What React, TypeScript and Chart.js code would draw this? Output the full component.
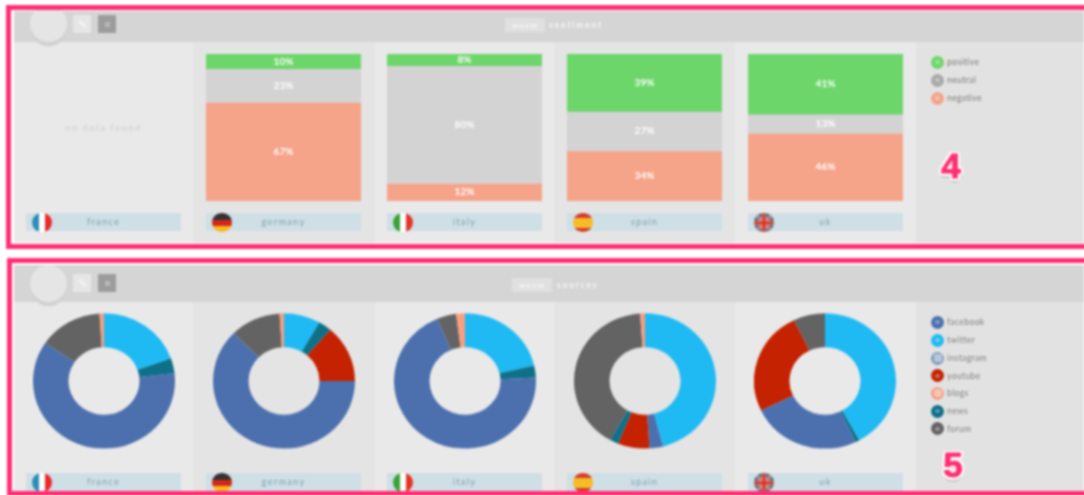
import React, { useEffect, useRef } from "react";
import { Chart, registerables } from "chart.js";

Chart.register(...registerables);

const countries = ["france", "germany", "italy", "spain", "uk"];
const sentimentLabels = ["positive", "neutral", "negative"];
const germanySentiment = [10, 23, 67];
const italySentiment = [8, 80, 12];
const spainSentiment = [39, 27, 34];
const ukSentiment = [41, 13, 46];
const sourceLabels = ["facebook", "twitter", "instagram", "youtube", "blogs", "news", "forum"];

const franceSources = ["twitter", "news", "facebook", "forum", "blogs"];
const franceShares = [19.6, 3.6, 61.3, 14.5, 1];
const germanySources = ["twitter", "news", "youtube", "facebook", "forum", "blogs"];
const germanyShares = [8.3, 3, 13.7, 62.5, 11.5, 1];
const italySources = ["twitter", "news", "facebook", "forum", "blogs"];
const italyShares = [21.3, 2.9, 69.4, 4.4, 2];
const spainSources = ["twitter", "facebook", "youtube", "news", "forum", "blogs"];
const spainShares = [45.9, 3.1, 7.2, 2, 40.7, 1.1];
const ukSources = ["twitter", "news", "facebook", "youtube", "forum"];
const ukShares = [42, 0.9, 25, 24.9, 7.2];

const sentimentColors: Record<string, string> = {
  positive: "#6dd66a",
  neutral: "#d3d3d3",
  negative: "#f5a389",
};
const sourceColors: Record<string, string> = {
  facebook: "#4c70ae",
  twitter: "#1fbaf3",
  instagram: "#7a9cc0",
  youtube: "#c42200",
  blogs: "#f99f7f",
  news: "#0f7089",
  forum: "#636363",
};

const FONT = "Lato, 'Open Sans', sans-serif";

const barLabelPlugin = {
  id: "barLabels",
  afterDatasetsDraw(chart: any) {
    const { ctx } = chart;
    ctx.save();
    ctx.fillStyle = "#ffffff";
    ctx.font = `700 10px ${FONT}`;
    ctx.textAlign = "center";
    ctx.textBaseline = "middle";
    chart.data.datasets.forEach((ds: any, i: number) => {
      const bar = chart.getDatasetMeta(i).data[0] as any;
      ctx.fillText(`${ds.data[0]}%`, bar.x, (bar.y + bar.base) / 2);
    });
    ctx.restore();
  },
};

function SentimentBar({ country, values, left }: { country: string; values: number[]; left: number }) {
  const ref = useRef<HTMLCanvasElement>(null);
  useEffect(() => {
    const chart = new Chart(ref.current as HTMLCanvasElement, {
      type: "bar",
      data: {
        labels: [country],
        datasets: sentimentLabels.map((label, i) => ({
          label,
          data: [values[i]],
          backgroundColor: sentimentColors[label],
          barPercentage: 1,
          categoryPercentage: 1,
          borderWidth: 0,
        })),
      },
      options: {
        animation: false,
        responsive: false,
        layout: { padding: 0 },
        plugins: { legend: { display: false }, tooltip: { enabled: false } },
        scales: {
          x: { stacked: true, display: false },
          y: { stacked: true, display: false, reverse: true, min: 0, max: 100 },
        },
      },
      plugins: [barLabelPlugin],
    } as any);
    return () => chart.destroy();
  }, []);
  return (
    <canvas
      ref={ref}
      width={155}
      height={147}
      style={{ position: "absolute", left, top: 54, width: 155, height: 147 }}
    />
  );
}

function SourceDonut({
  sources,
  shares,
  cx,
}: {
  sources: string[];
  shares: number[];
  cx: number;
}) {
  const ref = useRef<HTMLCanvasElement>(null);
  useEffect(() => {
    const chart = new Chart(ref.current as HTMLCanvasElement, {
      type: "doughnut",
      data: {
        labels: sources,
        datasets: [
          {
            data: shares,
            backgroundColor: sources.map((s) => sourceColors[s]),
            borderWidth: 0,
          },
        ],
      },
      options: {
        animation: false,
        responsive: false,
        cutout: "50%",
        layout: { padding: 0 },
        plugins: { legend: { display: false }, tooltip: { enabled: false } },
      },
    } as any);
    return () => chart.destroy();
  }, []);
  return (
    <div
      style={{
        position: "absolute",
        left: cx - 71,
        top: 309.8,
        width: 142,
        height: 142,
        transform: "scaleY(0.953)",
        transformOrigin: "50% 50%",
      }}
    >
      <canvas ref={ref} width={142} height={142} style={{ display: "block", width: 142, height: 142 }} />
    </div>
  );
}

function FlagArt({ country }: { country: string }) {
  const r = (x: number, y: number, w: number, h: number, fill: string) => (
    <rect x={x} y={y} width={w} height={h} fill={fill} />
  );
  if (country === "france")
    return (
      <>
        {r(0, 0, 7, 20, "#2b8db5")}
        {r(7, 0, 6, 20, "#ffffff")}
        {r(13, 0, 7, 20, "#e92a2a")}
      </>
    );
  if (country === "germany")
    return (
      <>
        {r(0, 0, 20, 7, "#333333")}
        {r(0, 7, 20, 6, "#d6261a")}
        {r(0, 13, 20, 7, "#f6b91f")}
      </>
    );
  if (country === "italy")
    return (
      <>
        {r(0, 0, 7, 20, "#38a336")}
        {r(7, 0, 6, 20, "#ffffff")}
        {r(13, 0, 7, 20, "#e53427")}
      </>
    );
  if (country === "spain")
    return (
      <>
        {r(0, 0, 20, 5, "#d9392b")}
        {r(0, 5, 20, 10, "#f4bd25")}
        {r(0, 15, 20, 5, "#d9392b")}
      </>
    );
  return (
    <>
      {r(0, 0, 20, 20, "#2a6a85")}
      <path d="M0 0L20 20M20 0L0 20" stroke="#f2f2f2" strokeWidth={3} />
      <path d="M0 0L20 20M20 0L0 20" stroke="#e04a3a" strokeWidth={1.6} />
      {r(7.8, 0, 4.4, 20, "#f2f2f2")}
      {r(0, 7.8, 20, 4.4, "#f2f2f2")}
      {r(8.3, 0, 3.4, 20, "#d8352a")}
      {r(0, 8.3, 20, 3.4, "#d8352a")}
    </>
  );
}

const abs = (s: React.CSSProperties): React.CSSProperties => ({ position: "absolute", ...s });

const columnLeft = [14, 193, 375, 555, 735];
const columnWidth = [179, 182, 180, 180, 181];
const barLeft = [26, 206, 387, 567, 748];

function Panel({
  top,
  headerH,
  bottom,
  title,
  pillLeft,
  titleLeft,
  labelTop,
  squareTop,
}: {
  top: number;
  headerH: number;
  bottom: number;
  title: string;
  pillLeft: number;
  titleLeft: number;
  labelTop: number;
  squareTop: number;
}) {
  const bodyTop = top + headerH;
  return (
    <>
      <div style={abs({ left: 14, top, width: 1070, height: bottom - top, background: "#e2e2e2" })} />
      {columnLeft.map((l, i) => (
        <div
          key={i}
          style={abs({
            left: l,
            top: bodyTop,
            width: columnWidth[i],
            height: bottom - bodyTop,
            background: i % 2 === 0 ? "#e9e9e9" : "#e4e4e4",
          })}
        />
      ))}
      <div style={abs({ left: 14, top, width: 1070, height: headerH, background: "#d5d5d5" })} />
      <div
        style={abs({
          left: 29.5,
          top: bodyTop - 37,
          width: 37.5,
          height: 37.5,
          borderRadius: "50%",
          background: "#e5e5e5",
          boxShadow: "0 4.5px 0 #d2d2d2",
        })}
      />
      <div style={abs({ left: 73, top: squareTop, width: 18, height: 18, background: "#e6e6e6" })}>
        <div
          style={abs({
            left: 5,
            top: 8,
            width: 9,
            height: 2,
            background: "#f6f6f6",
            transform: "rotate(45deg)",
          })}
        />
      </div>
      <div style={abs({ left: 98, top: squareTop, width: 18, height: 18, background: "#9c9c9c" })}>
        <div style={abs({ left: 6.5, top: 7, width: 5, height: 5, background: "#b8b8b8" })} />
      </div>
      <div
        style={abs({
          left: pillLeft,
          top: bodyTop - 24,
          width: 40,
          height: 14,
          background: "#e0e0e0",
          color: "#f6f6f6",
          font: `700 8px ${FONT}`,
          letterSpacing: 1.2,
          lineHeight: "14px",
          textAlign: "center",
        })}
      >
        wuzm
      </div>
      <div
        style={abs({
          left: titleLeft,
          top: bodyTop - 24,
          color: "#f6f6f6",
          font: `700 8.5px ${FONT}`,
          letterSpacing: 1.8,
          lineHeight: "14px",
        })}
      >
        {title}
      </div>
      {countries.map((c, i) => (
        <React.Fragment key={c}>
          <div
            style={abs({
              left: barLeft[i],
              top: labelTop,
              width: 155,
              height: 18,
              background: "#cfdfe6",
              color: "#7fa6b0",
              font: `400 9px ${FONT}`,
              letterSpacing: 1.4,
              lineHeight: "18px",
              textAlign: "center",
            })}
          >
            {c}
          </div>
          <div
            style={abs({
              left: barLeft[i] + 6,
              top: labelTop - 0.5,
              width: 19.5,
              height: 19.5,
              borderRadius: "50%",
              overflow: "hidden",
            })}
          >
            <svg width={20} height={20} style={{ display: "block" }}>
              <FlagArt country={c} />
            </svg>
          </div>
        </React.Fragment>
      ))}
    </>
  );
}

function LegendRow({ label, color, y, kind }: { label: string; color: string; y: number; kind: string }) {
  const hollow = kind === "instagram" || kind === "blogs";
  return (
    <>
      <div
        style={abs({
          left: 931,
          top: y - 6.5,
          width: 13,
          height: 13,
          borderRadius: "50%",
          background: color,
        })}
      >
        <div
          style={abs({
            left: hollow ? 2.5 : 4,
            top: hollow ? 2.5 : 4.5,
            width: hollow ? 8 : 5,
            height: hollow ? 8 : 4,
            borderRadius: kind === "instagram" ? 1 : "50%",
            background: hollow ? "#ececec88" : "#ffffff55",
          })}
        />
      </div>
      <div
        style={abs({
          left: 947,
          top: y - 7,
          color: "#808080",
          font: `400 8.5px ${FONT}`,
          letterSpacing: 0.4,
          lineHeight: "14px",
        })}
      >
        {label}
      </div>
    </>
  );
}

const marker = (text: string, left: number, top: number) => (
  <div
    style={abs({
      left,
      top,
      width: 40,
      textAlign: "center",
      color: "#ff2e73",
      font: `700 35px 'Liberation Sans', sans-serif`,
      lineHeight: "35px",
      WebkitTextStroke: "1px #ff2e73",
      textShadow:
        "2.5px 0 0 #fff,-2.5px 0 0 #fff,0 2.5px 0 #fff,0 -2.5px 0 #fff,2px 2px 0 #fff,-2px 2px 0 #fff,2px -2px 0 #fff,-2px -2px 0 #fff,0 4px 2px #aaa",
    })}
  >
    {text}
  </div>
);

export default function App() {
  const sentimentLegendY = [62, 80, 98];
  const sourceLegendY = [322, 340, 358, 375.5, 393, 411, 428.5];
  return (
    <div
      style={abs({
        left: 0,
        top: 0,
        width: 1084,
        height: 495,
        overflow: "hidden",
        background: "#ffffff",
      })}
    >
      <div style={abs({ left: 0, top: 0, width: 1084, height: 495, filter: "blur(0.8px)" })}>
        <Panel top={11} headerH={30.5} bottom={243} title="sentiment" pillLeft={505} titleLeft={549} labelTop={213} squareTop={14.5} />
        <Panel top={265} headerH={36.5} bottom={492} title="sources" pillLeft={512} titleLeft={557} labelTop={473} squareTop={274} />

        <div
          style={abs({
            left: 14,
            top: 122,
            width: 179,
            textAlign: "center",
            color: "#d6d6d6",
            font: `700 9px ${FONT}`,
            letterSpacing: 1.6,
            lineHeight: "12px",
          })}
        >
          no data found
        </div>

        <SentimentBar country="germany" values={germanySentiment} left={206} />
        <SentimentBar country="italy" values={italySentiment} left={387} />
        <SentimentBar country="spain" values={spainSentiment} left={567} />
        <SentimentBar country="uk" values={ukSentiment} left={748} />

        <SourceDonut sources={franceSources} shares={franceShares} cx={103.5} />
        <SourceDonut sources={germanySources} shares={germanyShares} cx={284} />
        <SourceDonut sources={italySources} shares={italyShares} cx={464.5} />
        <SourceDonut sources={spainSources} shares={spainShares} cx={644.7} />
        <SourceDonut sources={ukSources} shares={ukShares} cx={825} />

        {sentimentLabels.map((l, i) => (
          <LegendRow
            key={l}
            label={l}
            kind={l}
            y={sentimentLegendY[i]}
            color={l === "neutral" ? "#a9a9a9" : sentimentColors[l]}
          />
        ))}
        {sourceLabels.map((l, i) => (
          <LegendRow key={l} label={l} kind={l} y={sourceLegendY[i]} color={sourceColors[l]} />
        ))}

        {marker("4", 931, 148)}
        {marker("5", 933, 447)}

        <div style={abs({ left: 5.5, top: 5, width: 1090, height: 234, border: "5px solid #ff2e73" })} />
        <div style={abs({ left: 7, top: 258, width: 1090, height: 228, border: "5px solid #ff2e73" })} />
      </div>
    </div>
  );
}
